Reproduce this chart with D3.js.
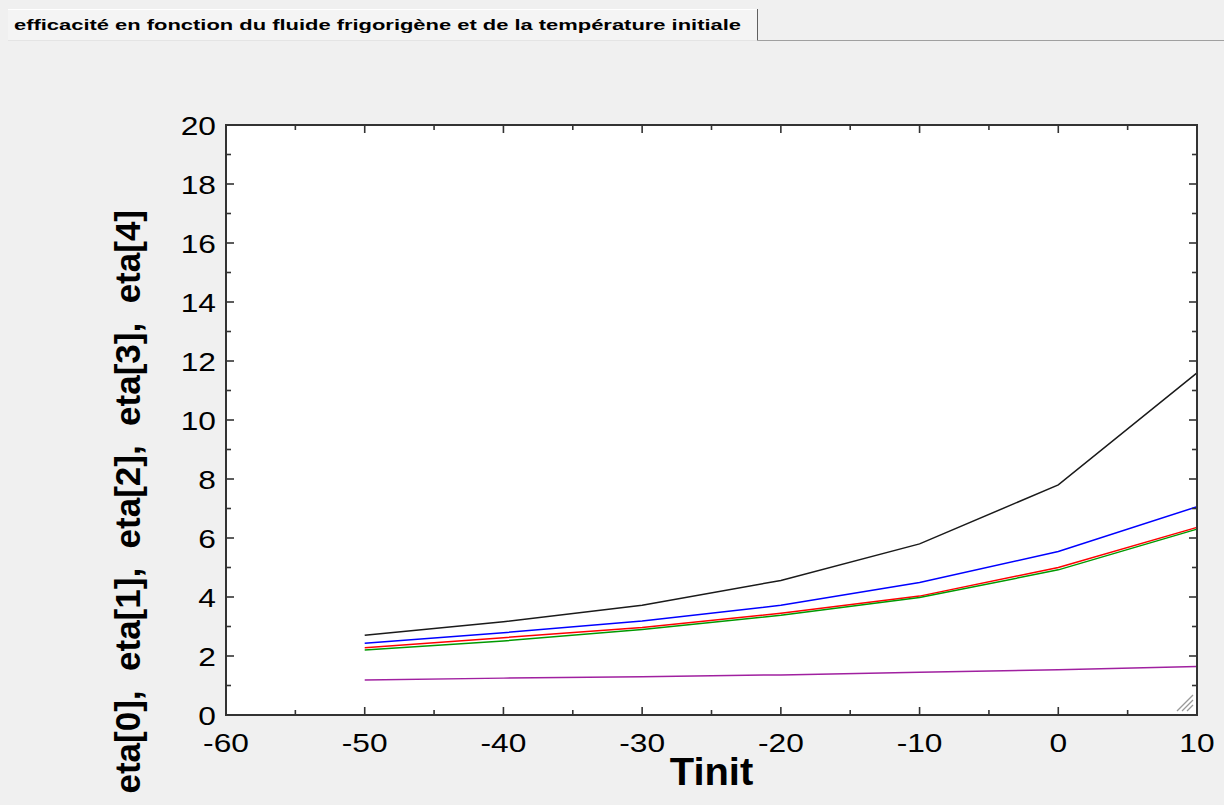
<!DOCTYPE html>
<html>
<head>
<meta charset="utf-8">
<script src="https://cdn.jsdelivr.net/npm/d3@7"></script>
<style>
  html, body { margin: 0; padding: 0; background: #f0f0f0; }
  svg { display: block; }
  text { font-family: "Liberation Sans", Arial, sans-serif; fill: #000; }
</style>
</head>
<body>
<svg id="chart" width="1224" height="805"></svg>
<script>
// ---- data ----
const tinit = [-50, -40, -30, -20, -10, 0, 10];
const eta0 = [2.70, 3.16, 3.72, 4.56, 5.80, 7.80, 11.60];
const eta1 = [2.43, 2.79, 3.19, 3.72, 4.49, 5.54, 7.06];
const eta2 = [2.28, 2.62, 2.97, 3.45, 4.03, 5.00, 6.36];
const eta3 = [2.20, 2.51, 2.90, 3.38, 3.98, 4.92, 6.30];
const eta4 = [1.19, 1.25, 1.30, 1.36, 1.45, 1.53, 1.64];
const seriesNames = ["eta[0]", "eta[1]", "eta[2]", "eta[3]", "eta[4]"];
const seriesColors = ["#1a1a1a", "#0000ff", "#ff0000", "#009a00", "#a020a0"];
const xTickValues = [-60, -50, -40, -30, -20, -10, 0, 10];
const yTickValues = [0, 2, 4, 6, 8, 10, 12, 14, 16, 18, 20];
const titleText = "efficacité en fonction du fluide frigorigène et de la température initiale";
const xLabel = "Tinit";
const yLabel = "eta[0],  eta[1],  eta[2],  eta[3],  eta[4]";

const svg = d3.select("#chart");
const SX = 1.22; // wide tick-label font

// ---- tab header ----
svg.append("rect").attr("x", 8).attr("y", 9).attr("width", 749).attr("height", 31)
  .attr("fill", "#f4f4f4");
svg.append("line").attr("x1", 8).attr("x2", 757).attr("y1", 9.5).attr("y2", 9.5).attr("stroke", "#ffffff");
svg.append("line").attr("x1", 757.5).attr("x2", 757.5).attr("y1", 9).attr("y2", 40).attr("stroke", "#606060");
svg.append("line").attr("x1", 757).attr("x2", 1224).attr("y1", 40.5).attr("y2", 40.5).attr("stroke", "#a0a0a0");
svg.append("line").attr("x1", 8).attr("x2", 757).attr("y1", 40.5).attr("y2", 40.5).attr("stroke", "#e4e4e4");

svg.append("text").attr("x", 14).attr("y", 30).attr("font-size", 15.5).attr("font-weight", "bold")
  .attr("textLength", 727).attr("lengthAdjust", "spacingAndGlyphs").text(titleText);

// ---- scales ----
const L = 226, R = 1197, T = 125, B = 715;
const x = d3.scaleLinear().domain([-60, 10]).range([L, R]);
const y = d3.scaleLinear().domain([0, 20]).range([B, T]);

svg.append("rect").attr("x", L).attr("y", T).attr("width", R - L).attr("height", B - T).attr("fill", "#fff");

// ---- lines ----
const series = [eta0, eta1, eta2, eta3, eta4];
const line = d3.line().x((d, i) => x(tinit[i])).y(d => y(d));
series.forEach((s, k) => {
  svg.append("path").datum(s).attr("d", line).attr("fill", "none")
    .attr("stroke", seriesColors[k]).attr("stroke-width", 1.5);
});

// ---- axes (ticks inside on all four sides) ----
const tickColor = "#333";
const xMinor = d3.range(-60, 10.01, 5);
const yMinor = d3.range(0, 20.01, 1);
const tg = svg.append("g").attr("stroke", tickColor).attr("stroke-width", 1.6);
xMinor.forEach(v => {
  const len = (v % 10 === 0) ? 8 : 5;
  tg.append("line").attr("x1", x(v)).attr("x2", x(v)).attr("y1", B).attr("y2", B - len);
  tg.append("line").attr("x1", x(v)).attr("x2", x(v)).attr("y1", T).attr("y2", T + len);
});
yMinor.forEach(v => {
  const len = (v % 2 === 0) ? 8 : 5;
  tg.append("line").attr("y1", y(v)).attr("y2", y(v)).attr("x1", L).attr("x2", L + len);
  tg.append("line").attr("y1", y(v)).attr("y2", y(v)).attr("x1", R).attr("x2", R - len);
});
svg.append("rect").attr("x", L).attr("y", T).attr("width", R - L).attr("height", B - T)
  .attr("fill", "none").attr("stroke", tickColor).attr("stroke-width", 2);

// resize grip
const grip = svg.append("g").attr("stroke", "#999").attr("stroke-width", 1.2);
[0, 5, 10].forEach(o => {
  grip.append("line").attr("x1", R - 4 - 16 + o).attr("y1", B - 4).attr("x2", R - 4).attr("y2", B - 4 - 16 + o);
});

// tick labels
xTickValues.forEach(v => {
  svg.append("g").attr("transform", `translate(${x(v)},752) scale(${SX},1)`)
    .append("text").attr("text-anchor", "middle").attr("font-size", 26).text(String(v));
});
yTickValues.forEach(v => {
  svg.append("g").attr("transform", `translate(216,${y(v) + 9.5}) scale(${SX},1)`)
    .append("text").attr("text-anchor", "end").attr("font-size", 26).text(String(v));
});

// axis titles
svg.append("g").attr("transform", `translate(${(L + R) / 2},785) scale(1.05,1)`)
  .append("text").attr("text-anchor", "middle").attr("font-size", 38).attr("font-weight", "bold").text(xLabel);
svg.append("g").attr("transform", `translate(140,210) rotate(-90)`)
  .append("text").attr("text-anchor", "end").attr("font-size", 35).attr("font-weight", "bold")
  .attr("xml:space", "preserve").style("white-space", "pre").text(yLabel);
</script>
</body>
</html>
